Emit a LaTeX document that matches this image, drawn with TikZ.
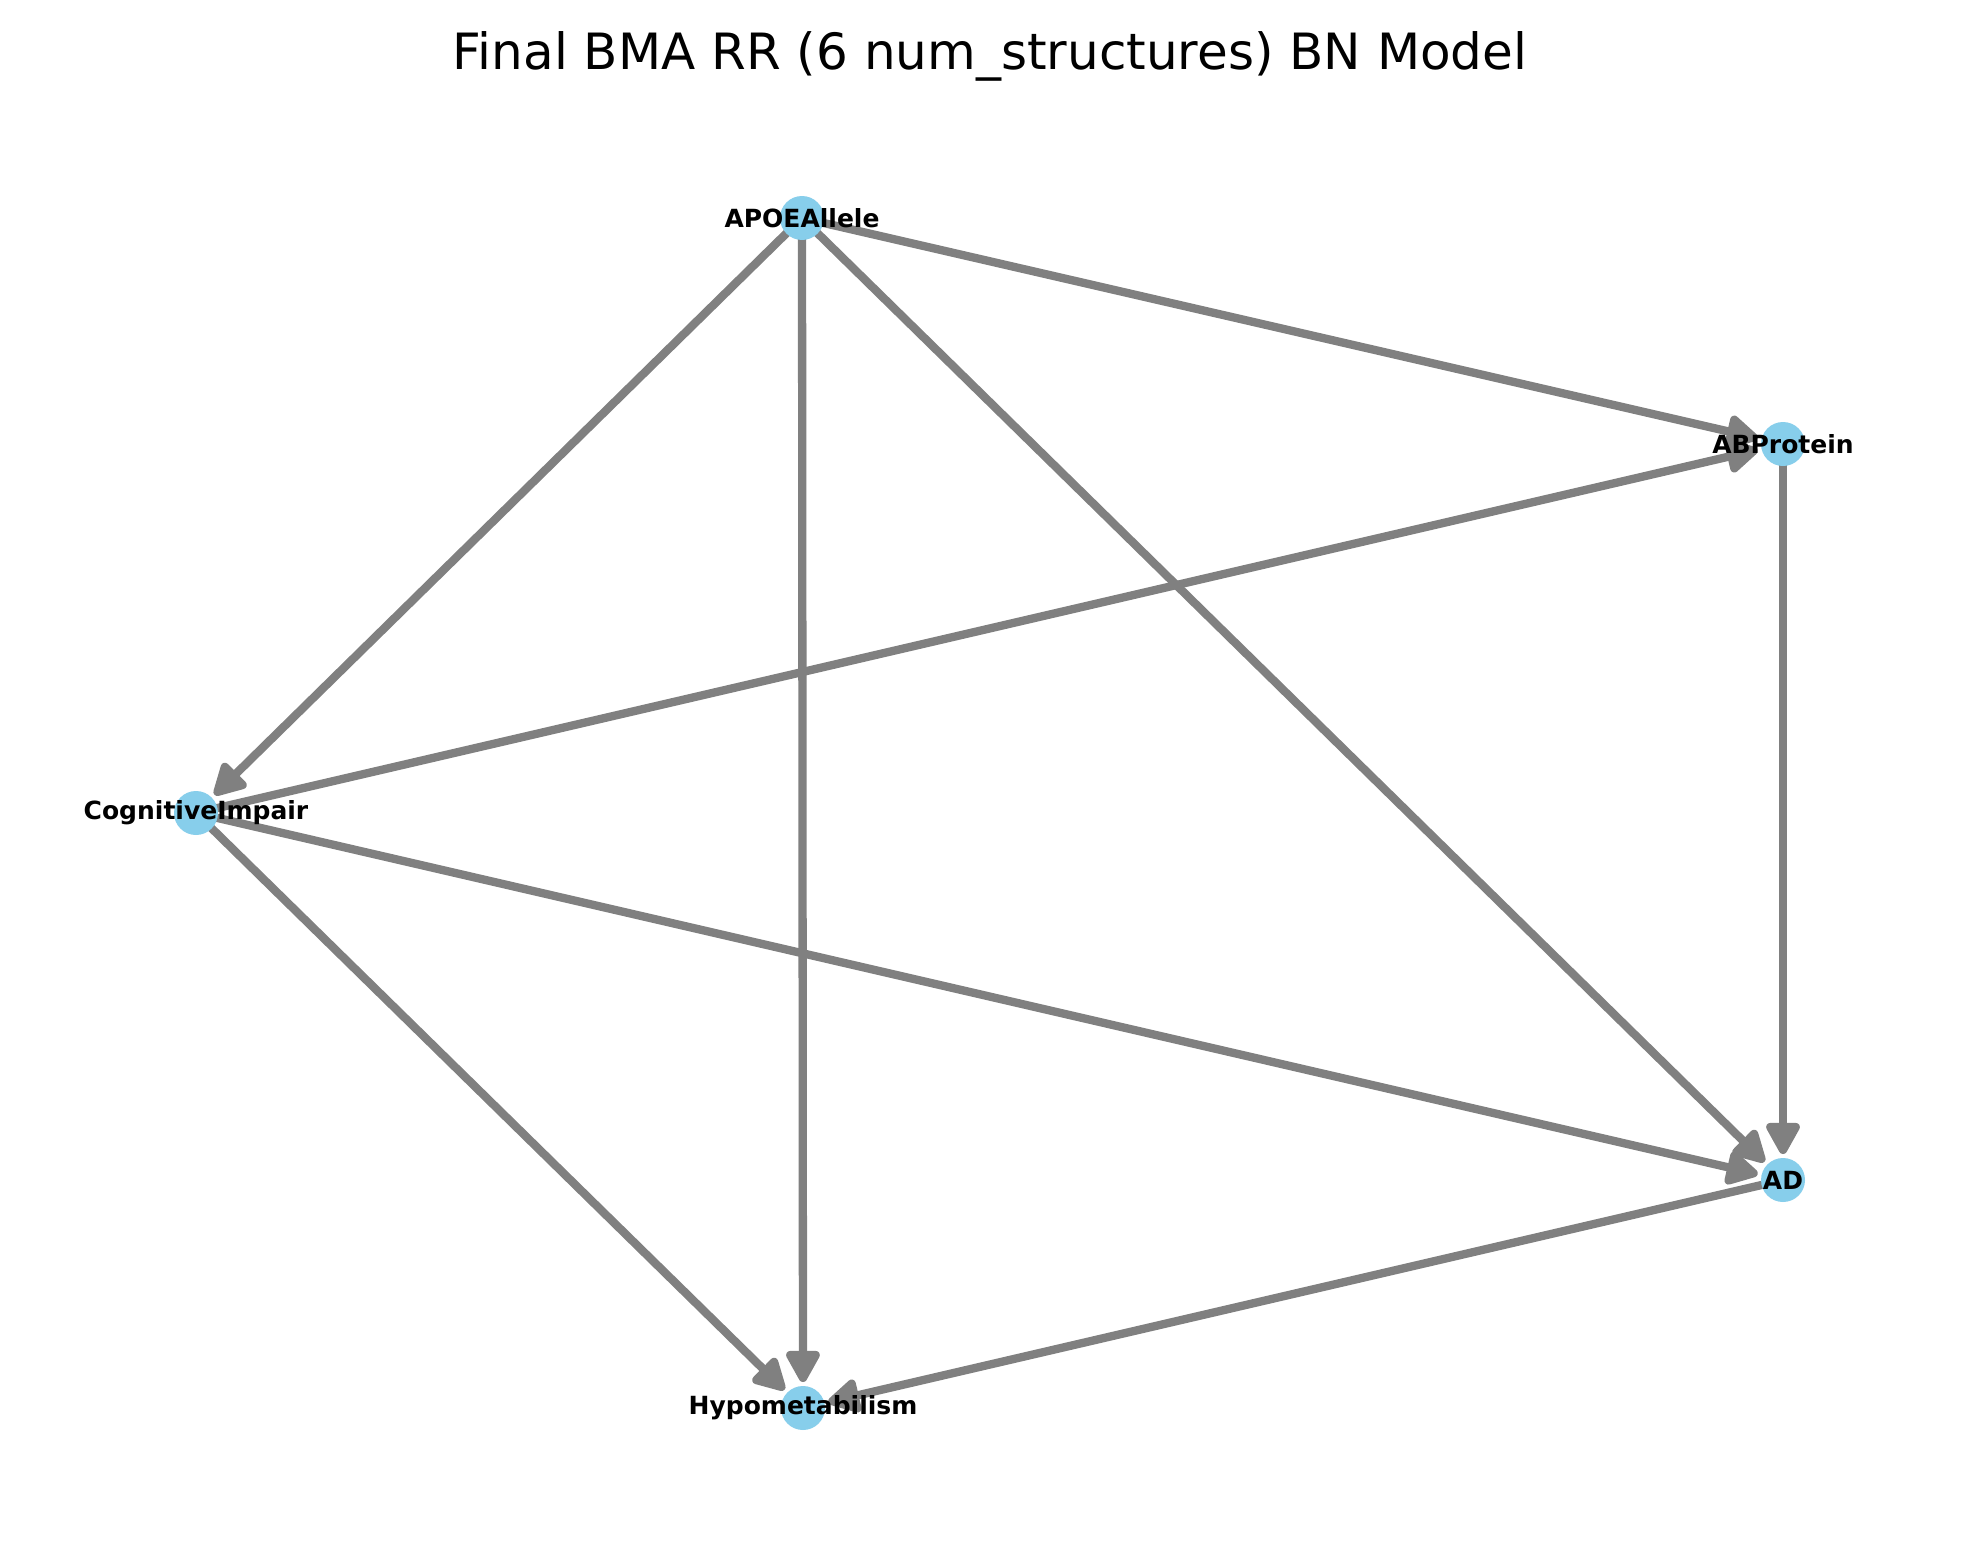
\documentclass[tikz,border=0pt]{standalone}
\usepackage{fontspec}
\setmainfont{DejaVu Sans}
\usetikzlibrary{arrows.meta}
\definecolor{edgegray}{HTML}{808080}
\definecolor{skyblue}{HTML}{87CEEB}
\tikzset{
  edge/.style={draw=edgegray, line width=8.3pt, line cap=butt,
    -{Triangle[length=36pt,width=37pt,round]}, shorten >=26pt},
  dot/.style={circle, fill=skyblue, draw=none, minimum size=44pt, inner sep=0pt},
  lab/.style={font=\fontsize{25}{27}\selectfont\bfseries, text=black, inner sep=0pt},
  ttl/.style={font=\fontsize{50}{56}\selectfont, text=black, inner sep=0pt, anchor=base}
}
\begin{document}
\begin{tikzpicture}[x=1pt,y=-1pt]
\useasboundingbox (0,0) rectangle (1980,1563);
\fill[white] (0,0) rectangle (1980,1563);
\coordinate (apoe) at (802,218);
\coordinate (abp) at (1783,444);
\coordinate (cog) at (196,813);
\coordinate (ad) at (1783,1180);
\coordinate (hypo) at (803,1408);

\draw[edge] (apoe) -- (abp);
\draw[edge] (apoe) -- (cog);
\draw[edge] (apoe) -- (hypo);
\draw[edge] (apoe) -- (ad);
\draw[edge] (abp) -- (ad);
\draw[edge] (cog) -- (abp);
\draw[edge] (cog) -- (ad);
\draw[edge] (cog) -- (hypo);
\draw[edge] (ad) -- (hypo);

\node[dot] (apoeDot) at (apoe) {};
\node[dot] (abpDot) at (abp) {};
\node[dot] (cogDot) at (cog) {};
\node[dot] (adDot) at (ad) {};
\node[dot] (hypoDot) at (hypo) {};

\node[lab] (apoeLab) at (apoe) {APOEAllele};
\node[lab] (abpLab) at (abp) {ABProtein};
\node[lab] (cogLab) at (cog) {CognitiveImpair};
\node[lab] (adLab) at (ad) {AD};
\node[lab] (hypoLab) at (hypo) {Hypometabilism};

\node[ttl] (title) at (990,70) {Final BMA RR (6 num\_structures) BN Model};
\end{tikzpicture}
\end{document}
